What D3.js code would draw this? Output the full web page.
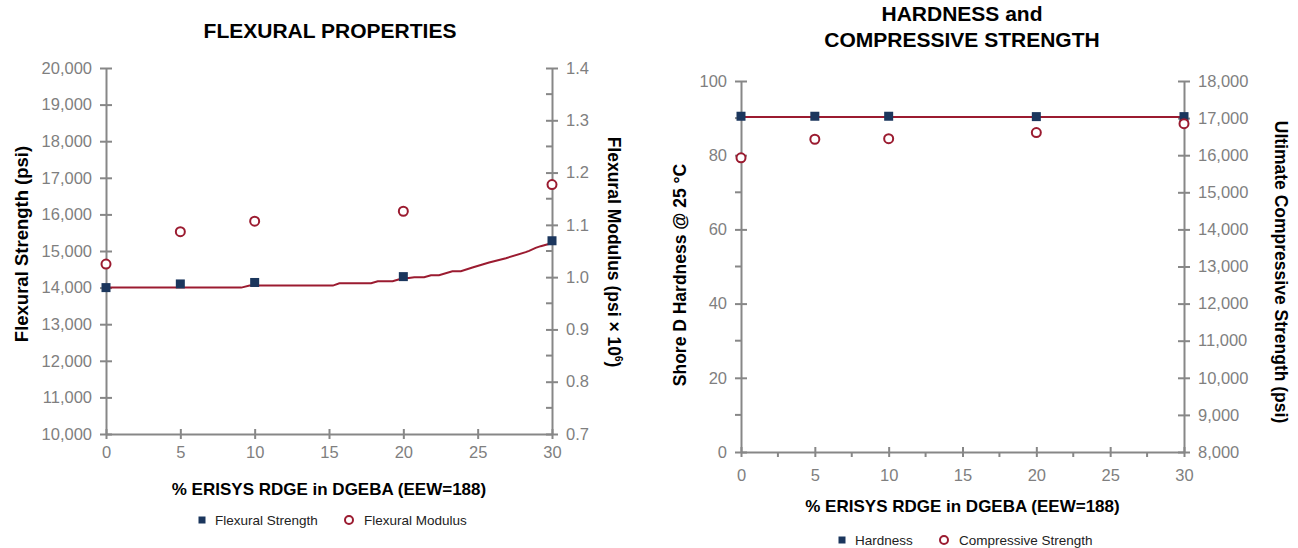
<!DOCTYPE html>
<html>
<head>
  <meta charset="utf-8">
  <script src="https://cdnjs.cloudflare.com/ajax/libs/d3/7.8.5/d3.min.js"></script>
  <style>
    body { margin: 0; background: #fff; }
    svg text { font-family: "Liberation Sans", Arial, sans-serif; }
  </style>
</head>
<body>
  <svg></svg>
  <script>
    // shared x values (% ERISYS RDGE)
    var pct = [0, 5, 10, 20, 30];
    var xTicks = [0, 5, 10, 15, 20, 25, 30];

    // flexural chart
    var flexStrength = [14000, 14100, 14140, 14300, 15280];
    var flexModulus = [1.025, 1.087, 1.107, 1.126, 1.177];
    var flexTrendX = [0, 9.1, 9.66, 15.26, 15.7, 17.83, 18.28, 19.28, 19.73, 20.74, 21.4, 21.86, 22.4, 23.3, 23.87, 24.65, 25.77, 26.9, 28.23, 28.46, 28.9, 29.24, 29.9];
    var flexTrendY = [14000, 14000, 14055, 14055, 14119, 14119, 14174, 14174, 14228, 14283, 14283, 14338, 14338, 14447, 14447, 14548, 14685, 14804, 14968, 15005, 15087, 15132, 15205];
    var strengthTicks = [10000, 11000, 12000, 13000, 14000, 15000, 16000, 17000, 18000, 19000, 20000];
    var modulusTicks = [0.7, 0.8, 0.9, 1.0, 1.1, 1.2, 1.3, 1.4];

    // hardness chart
    var hardness = [90.5, 90.5, 90.5, 90.4, 90.4];
    var compStrength = [15930, 16430, 16445, 16610, 16850];
    var hardTrendX = [0, 30];
    var hardTrendY = [90.3, 90.3];
    var hardnessTicks = [0, 20, 40, 60, 80, 100];
    var compTicks = [8000, 9000, 10000, 11000, 12000, 13000, 14000, 15000, 16000, 17000, 18000];

    var navy = "#1b365d", red = "#9b1b30", axisGrey = "#878787", labelGrey = "#7f7f7f";
    var fmt = d3.format(",");

    var svg = d3.select("svg").attr("width", 1298).attr("height", 548);

    function styleAxis(g) {
      g.select(".domain").attr("stroke", axisGrey).attr("stroke-width", 2);
      g.selectAll(".tick line").attr("stroke", axisGrey).attr("stroke-width", 2);
      g.selectAll(".tick text").attr("fill", labelGrey).style("font-size", "16.5px");
    }

    function minorTicks(g, vals, scale, orient, len) {
      g.selectAll("line.minor").data(vals).enter().append("line")
        .attr("class", "minor")
        .attr("stroke", axisGrey).attr("stroke-width", 2)
        .attr("x1", function(d) { return orient === "x" ? scale(d) : 0; })
        .attr("x2", function(d) { return orient === "x" ? scale(d) : -len; })
        .attr("y1", function(d) { return orient === "x" ? 0 : scale(d); })
        .attr("y2", function(d) { return orient === "x" ? len : scale(d); });
    }

    function drawChart(o) {
      var x = d3.scaleLinear().domain([0, 30]).range([o.x0, o.x1]);
      var yL = d3.scaleLinear().domain(o.lDomain).range([o.yb, o.yt]);
      var yR = d3.scaleLinear().domain(o.rDomain).range([o.yb, o.yt]);

      // bottom axis
      var gx = svg.append("g").attr("transform", "translate(0," + o.yb + ")")
        .call(d3.axisBottom(x).tickValues(xTicks).tickSize(5).tickPadding(o.xPad).tickSizeOuter(0));
      gx.selectAll(".tick line").attr("y1", -5);
      styleAxis(gx);
      if (o.xMinor) minorTicks(gx, [2.5, 7.5, 12.5, 17.5, 22.5, 27.5], x, "x", 5);

      // left axis
      var gl = svg.append("g").attr("transform", "translate(" + o.x0 + ",0)")
        .call(d3.axisLeft(yL).tickValues(o.lTicks).tickSize(6).tickPadding(8).tickSizeOuter(0).tickFormat(o.lFmt));
      gl.selectAll(".tick line").attr("x1", 6);
      styleAxis(gl);
      if (o.lMinor) minorTicks(gl, o.lMinor, yL, "y", 6);

      // right axis
      var gr = svg.append("g").attr("transform", "translate(" + o.x1 + ",0)")
        .call(d3.axisRight(yR).tickValues(o.rTicks).tickSize(6).tickPadding(8).tickSizeOuter(0).tickFormat(o.rFmt));
      gr.selectAll(".tick line").attr("x1", -6);
      styleAxis(gr);
      if (o.rMinor) minorTicks(gr, o.rMinor, yR, "y", 6);

      // trend line
      var line = d3.line().x(function(d) { return x(d[0]); }).y(function(d) { return yL(d[1]); });
      svg.append("path").datum(d3.zip(o.trendX, o.trendY))
        .attr("d", line).attr("fill", "none").attr("stroke", red).attr("stroke-width", 2);

      // squares (left axis)
      svg.append("g").selectAll("rect").data(d3.zip(pct, o.lVals)).enter().append("rect")
        .attr("x", function(d) { return x(d[0]) - 4.5; })
        .attr("y", function(d) { return yL(d[1]) - 4.5; })
        .attr("width", 9).attr("height", 9).attr("fill", navy);

      // circles (right axis)
      svg.append("g").selectAll("circle").data(d3.zip(pct, o.rVals)).enter().append("circle")
        .attr("cx", function(d) { return x(d[0]); })
        .attr("cy", function(d) { return yR(d[1]); })
        .attr("r", 4.5).attr("fill", "#fff").attr("stroke", red).attr("stroke-width", 2);

      // titles
      var t = svg.append("text").attr("text-anchor", "middle").attr("x", o.titleX)
        .style("font-size", "21px").style("font-weight", "bold").attr("fill", "#000");
      o.title.forEach(function(s, i) {
        t.append("tspan").attr("x", o.titleX).attr("y", o.titleY + i * 26).text(s);
      });

      svg.append("text").attr("text-anchor", "middle").attr("x", (o.x0 + o.x1) / 2).attr("y", o.xTitleY)
        .style("font-size", "17px").style("font-weight", "bold").text("% ERISYS RDGE in DGEBA (EEW=188)");

      svg.append("text").attr("text-anchor", "middle")
        .attr("transform", "translate(" + o.lTitleX + "," + o.lTitleCy + ") rotate(-90)")
        .style("font-size", o.lTitleSize).style("font-weight", "bold").text(o.lTitle);

      var rt = svg.append("text").attr("text-anchor", "middle")
        .attr("transform", "translate(" + o.rTitleX + "," + o.rTitleCy + ") rotate(90)")
        .style("font-size", "17.5px").style("font-weight", "bold");
      o.rTitle(rt);

      // legend
      var lg = svg.append("g").attr("transform", "translate(0," + o.legY + ")");
      lg.append("rect").attr("x", o.legX - 3.5).attr("y", -3.5).attr("width", 7).attr("height", 7).attr("fill", navy);
      lg.append("text").attr("x", o.legX + 13).attr("y", 5).style("font-size", "13.5px").attr("fill", "#222").text(o.legNames[0]);
      lg.append("circle").attr("cx", o.legX2).attr("cy", 0).attr("r", 4).attr("fill", "#fff").attr("stroke", red).attr("stroke-width", 2);
      lg.append("text").attr("x", o.legX2 + 15).attr("y", 5).style("font-size", "13.5px").attr("fill", "#222").text(o.legNames[1]);
    }

    drawChart({
      x0: 106, x1: 552, yt: 68, yb: 434, xPad: 7,
      lDomain: [10000, 20000], rDomain: [0.7, 1.4],
      lTicks: strengthTicks, rTicks: modulusTicks,
      lFmt: fmt, rFmt: d3.format(".1f"),
      rMinor: [0.75, 0.85, 0.95, 1.05, 1.15, 1.25, 1.35],
      lVals: flexStrength, rVals: flexModulus,
      trendX: flexTrendX, trendY: flexTrendY,
      title: ["FLEXURAL PROPERTIES"], titleX: 330, titleY: 38,
      xTitleY: 495,
      lTitle: "Flexural Strength (psi)", lTitleX: 28, lTitleCy: 244, lTitleSize: "18.5px",
      rTitleX: 608, rTitleCy: 252,
      rTitle: function(t) {
        t.append("tspan").text("Flexural Modulus (psi \u00d7 10");
        t.append("tspan").attr("dy", -7).style("font-size", "10px").text("6");
        t.append("tspan").attr("dy", 7).text(")");
      },
      legY: 520, legX: 202, legX2: 349,
      legNames: ["Flexural Strength", "Flexural Modulus"]
    });

    drawChart({
      x0: 741, x1: 1184, yt: 81, yb: 452, xPad: 12, xMinor: true,
      lDomain: [0, 100], rDomain: [8000, 18000],
      lTicks: hardnessTicks, rTicks: compTicks,
      lFmt: fmt, rFmt: fmt,
      lMinor: [10, 30, 50, 70, 90],
      lVals: hardness, rVals: compStrength,
      trendX: hardTrendX, trendY: hardTrendY,
      title: ["HARDNESS and", "COMPRESSIVE STRENGTH"], titleX: 962, titleY: 21,
      xTitleY: 512,
      lTitle: "Shore D Hardness @ 25 \u00b0C", lTitleX: 686, lTitleCy: 275, lTitleSize: "17.5px",
      rTitleX: 1275, rTitleCy: 272,
      rTitle: function(t) { t.text("Ultimate Compressive Strength (psi)"); },
      legY: 540, legX: 842, legX2: 944,
      legNames: ["Hardness", "Compressive Strength"]
    });
  </script>
</body>
</html>
